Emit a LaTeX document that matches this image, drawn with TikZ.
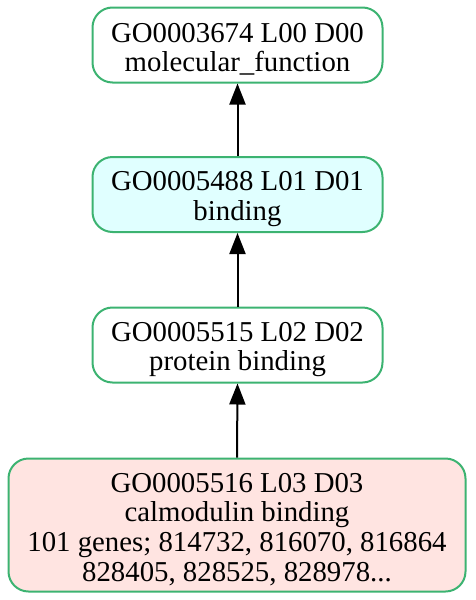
\documentclass[tikz,border=0pt]{standalone}
\usepackage{fontspec}
\setmainfont{Liberation Serif}
\usetikzlibrary{arrows.meta}
\definecolor{edgegreen}{HTML}{3CB371}
\definecolor{cyanfill}{HTML}{E0FFFF}
\definecolor{rosefill}{HTML}{FFE4E1}
\newcommand{\topstrut}{\rule{0pt}{28pt}}
\tikzset{
  goterm/.style={draw=edgegreen, line width=2pt, rounded corners=20pt,
    inner sep=0pt, align=center, font=\fontsize{28.8}{29.7}\selectfont},
  uparrow/.style={-{Triangle[length=21pt,width=16pt]}, line width=2pt, black}
}
\begin{document}
\begin{tikzpicture}[x=1pt,y=-1pt]
\useasboundingbox (0,0) rectangle (475,600);
\node[goterm, minimum width=290pt, minimum height=75pt] (n1) at (237.5,45) {\topstrut GO0003674 L00 D00\\molecular\_function};
\node[goterm, fill=cyanfill, minimum width=290pt, minimum height=75pt] (n2) at (237.5,194.5) {\topstrut GO0005488 L01 D01\\binding};
\node[goterm, minimum width=290pt, minimum height=75pt] (n3) at (237.5,345) {\topstrut GO0005515 L02 D02\\protein binding};
\node[goterm, fill=rosefill, minimum width=457pt, minimum height=133pt] (n4) at (237,525) {\topstrut GO0005516 L03 D03\\calmodulin binding\\101 genes; 814732, 816070, 816864\\828405, 828525, 828978...};
\draw[uparrow] (n2.north) -- (n1.south);
\draw[uparrow] (n3.north) -- (n2.south);
\draw[uparrow] (n4.north) -- (n3.south);
\end{tikzpicture}
\end{document}
